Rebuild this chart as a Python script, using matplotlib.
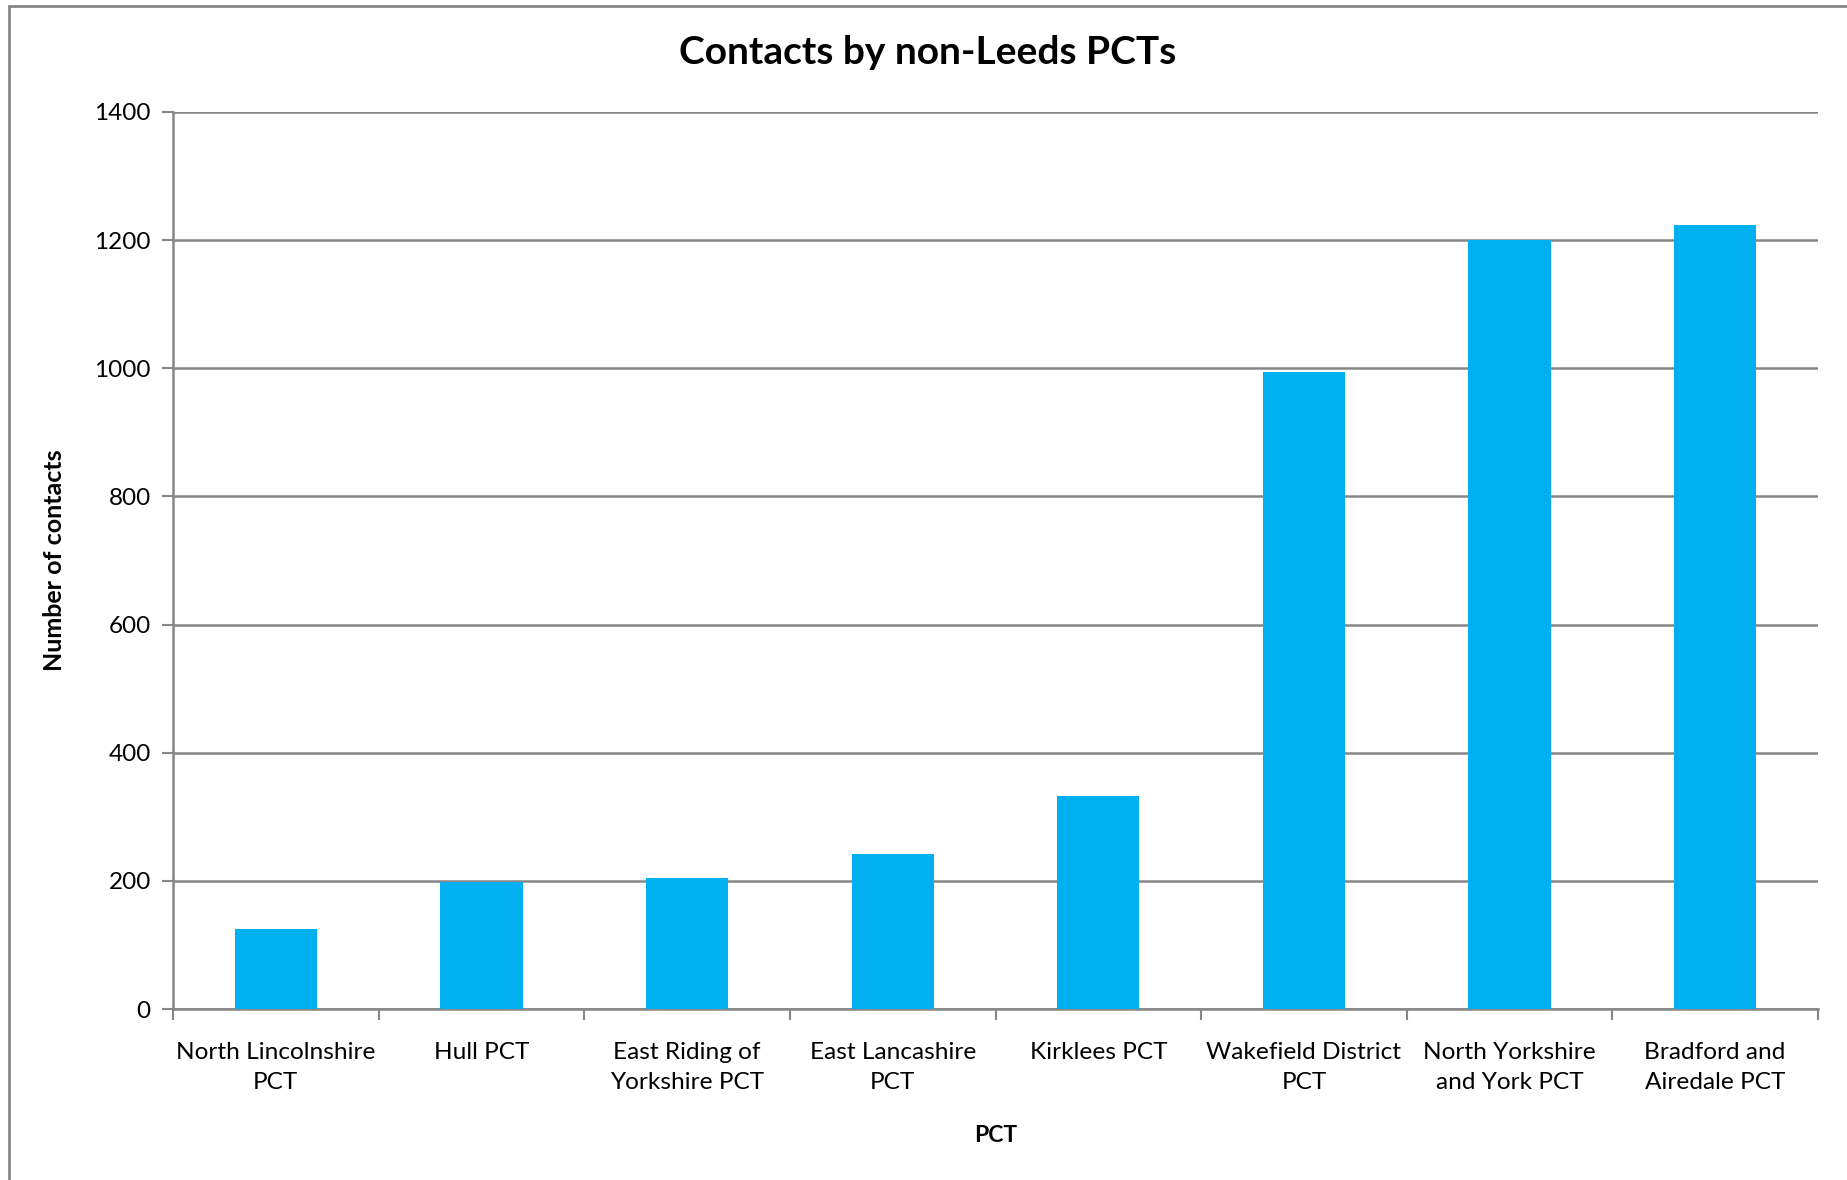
import matplotlib
matplotlib.use("Agg")
from matplotlib import pyplot as plt
from matplotlib.patches import Rectangle
import numpy

categories = ["North Lincolnshire\nPCT", "Hull PCT", "East Riding of\nYorkshire PCT",
              "East Lancashire\nPCT", "Kirklees PCT", "Wakefield District\nPCT",
              "North Yorkshire\nand York PCT", "Bradford and\nAiredale PCT"]
contacts = [125, 198, 204, 242, 333, 994, 1201, 1224]
y_ticks = [0, 200, 400, 600, 800, 1000, 1200, 1400]

plt.rcParams['font.family'] = ['Lato', 'DejaVu Sans']
grey = '#868686'

fig = plt.figure(figsize=(18.47, 11.8), dpi=100)
# chart area border
fig.patches.append(Rectangle((9 / 1847, -0.1), 1.2, 1 - 6 / 1180 + 0.1,
                             transform=fig.transFigure, fill=False,
                             edgecolor=grey, linewidth=2))

ax = fig.add_axes([173 / 1847, 1 - 1009 / 1180, (1818 - 173) / 1847, (1009 - 112) / 1180])
x = numpy.arange(len(categories))
ax.bar(x, contacts, width=0.4, color='#00B0F0', zorder=3)

ax.set_xlim(-0.5, len(categories) - 0.5)
ax.set_ylim(0, 1400)
ax.set_yticks(y_ticks)
ax.tick_params(axis='y', labelsize=17.5, length=8, width=1.5, color=grey, pad=8)
ax.yaxis.grid(True, color=grey, linewidth=1.8, zorder=0)

ax.set_xticks(numpy.arange(len(categories) + 1) - 0.5)
ax.set_xticklabels([])
ax.tick_params(axis='x', which='major', length=8, width=1.5, color=grey)
ax.set_xticks(x, minor=True)
ax.set_xticklabels(categories, minor=True, fontsize=17.6, linespacing=1.5)
ax.tick_params(axis='x', which='minor', length=0, pad=24)

for s in ['top', 'right']:
    ax.spines[s].set_visible(False)
for s in ['left', 'bottom']:
    ax.spines[s].set_color(grey)
    ax.spines[s].set_linewidth(1.8)

fig.text(928 / 1847, 1 - 53 / 1180, "Contacts by non-Leeds PCTs", fontsize=28,
         fontweight='bold', ha='center', va='center')
ax.set_xlabel("PCT", fontsize=16.5, fontweight='bold', labelpad=23)
ax.set_ylabel("Number of contacts", fontsize=18, fontweight='bold', labelpad=20)

fig.savefig("out.png", dpi=100)
